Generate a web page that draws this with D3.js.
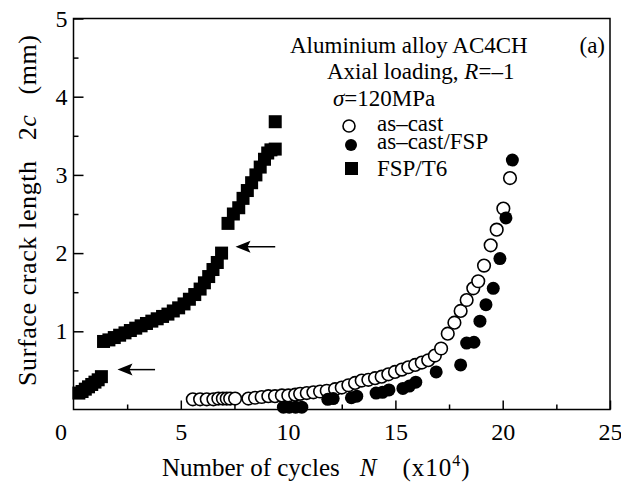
<!DOCTYPE html>
<html>
<head>
<meta charset="utf-8">
<script src="https://cdn.jsdelivr.net/npm/d3@7"></script>
<style>
  body { margin: 0; background: #fff; }
  svg text { font-family: "Liberation Serif", "Times New Roman", serif; fill: #000; }
</style>
</head>
<body>
<script>
// FSP/T6 (filled squares)
var fspN = [0.25, 0.4, 0.55, 0.7, 0.85, 1.0, 1.15, 1.3,
    1.4, 1.65, 1.9, 2.15, 2.4, 2.65, 2.9, 3.15, 3.4, 3.65, 3.9, 4.15, 4.4, 4.65, 4.9,
    5.15, 5.4, 5.65, 5.9, 6.1, 6.3, 6.5, 6.7, 6.9,
    7.2, 7.45, 7.7, 7.9, 8.1, 8.3, 8.5, 8.7, 8.9, 9.05, 9.2, 9.4, 9.4];
var fspC = [0.21, 0.23, 0.26, 0.29, 0.32, 0.35, 0.38, 0.42,
    0.87, 0.89, 0.92, 0.95, 0.98, 1.01, 1.04, 1.07, 1.10, 1.13, 1.16, 1.19, 1.22, 1.26, 1.30,
    1.35, 1.41, 1.47, 1.54, 1.62, 1.70, 1.79, 1.88, 2.00,
    2.38, 2.50, 2.58, 2.70, 2.80, 2.90, 3.00, 3.10, 3.20, 3.28, 3.32, 3.33, 3.68];

// as-cast (open circles)
var castN = [5.56, 5.9, 6.21, 6.52, 6.75, 6.96, 7.14, 7.3, 7.53, 8.15, 8.46, 8.77, 9.08, 9.39, 9.71,
    10.01, 10.33, 10.56, 10.87, 11.18, 11.49, 11.8, 12.19, 12.5, 12.81, 13.12, 13.43, 13.74,
    14.05, 14.36, 14.67, 14.98, 15.3, 15.6, 15.92, 16.23, 16.53, 16.84, 17.13, 17.44, 17.75,
    18.04, 18.32, 18.63, 18.86, 19.13, 19.44, 19.72, 20.03, 20.34];
var castC = [0.13, 0.13, 0.13, 0.13, 0.14, 0.14, 0.14, 0.14, 0.14, 0.14, 0.15, 0.16, 0.17, 0.17, 0.18,
    0.18, 0.19, 0.20, 0.21, 0.22, 0.23, 0.24, 0.26, 0.28, 0.31, 0.34, 0.37, 0.38,
    0.40, 0.42, 0.45, 0.48, 0.51, 0.54, 0.57, 0.60, 0.63, 0.69, 0.78, 0.97, 1.11,
    1.26, 1.40, 1.55, 1.64, 1.84, 2.10, 2.30, 2.57, 2.96];

// as-cast/FSP (filled circles)
var castFspN = [9.78, 10.05, 10.35, 10.64, 11.85, 12.1, 12.95, 13.2, 14.1, 14.4, 14.7, 15.35, 15.65,
    15.95, 16.9, 18.04, 18.32, 18.66, 18.94, 19.22, 19.56, 19.87, 20.15, 20.45];
var castFspC = [0.03, 0.03, 0.03, 0.03, 0.13, 0.14, 0.15, 0.17, 0.21, 0.22, 0.25, 0.27, 0.30,
    0.35, 0.48, 0.57, 0.85, 0.86, 1.13, 1.34, 1.55, 1.93, 2.45, 3.19];

// arrows: [tail N, head N, c]
var arrows = [[3.8, 2.05, 0.51], [9.4, 7.55, 2.08]];

var xMajor = [5, 10, 15, 20, 25];
var xMinor = [2.5, 7.5, 12.5, 17.5, 22.5];
var yMajor = [1, 2, 3, 4, 5];
var yMinor = [0.5, 1.5, 2.5, 3.5, 4.5];

var width = 621, height = 487;
var margin = { left: 73.5, right: 610, top: 18.5, bottom: 409.5 };

var x = d3.scaleLinear().domain([0, 25]).range([margin.left, margin.right]);
var y = d3.scaleLinear().domain([0, 5]).range([margin.bottom, margin.top]);

var svg = d3.select("body").append("svg")
    .attr("width", width)
    .attr("height", height);

// axes with inward ticks
svg.append("g")
    .attr("transform", "translate(0," + margin.bottom + ")")
    .call(d3.axisBottom(x).tickValues(xMajor).tickSize(-9).tickPadding(13).tickFormat(d3.format("d")));
svg.append("g")
    .attr("transform", "translate(0," + margin.bottom + ")")
    .call(d3.axisBottom(x).tickValues(xMinor).tickSize(-5).tickFormat(""));
svg.append("g")
    .attr("transform", "translate(" + margin.left + ",0)")
    .call(d3.axisLeft(y).tickValues(yMajor).tickSize(-10).tickPadding(6).tickFormat(d3.format("d")));
svg.append("g")
    .attr("transform", "translate(" + margin.left + ",0)")
    .call(d3.axisLeft(y).tickValues(yMinor).tickSize(-5).tickFormat(""));

svg.selectAll(".domain").remove();
svg.selectAll(".tick line").attr("stroke", "#000").attr("stroke-width", 1.5);
svg.selectAll(".tick text").style("font-size", "24px").attr("font-family", null);

svg.append("text")
    .attr("x", 67).attr("y", 440)
    .attr("text-anchor", "end")
    .style("font-size", "24px")
    .text("0");

// frame
svg.append("rect")
    .attr("x", margin.left).attr("y", margin.top)
    .attr("width", margin.right - margin.left).attr("height", margin.bottom - margin.top)
    .attr("fill", "none").attr("stroke", "#000").attr("stroke-width", 1.5);

// data
var fsp = fspN.map(function (d, i) { return { n: d, c: fspC[i] }; });
var cast = castN.map(function (d, i) { return { n: d, c: castC[i] }; });
var castFsp = castFspN.map(function (d, i) { return { n: d, c: castFspC[i] }; });

var sq = 13;
svg.selectAll(".sq")
    .data(fsp)
    .enter()
    .append("rect")
    .attr("class", "sq")
    .attr("x", function (d) { return x(d.n) - sq / 2; })
    .attr("y", function (d) { return y(d.c) - sq / 2; })
    .attr("width", sq).attr("height", sq)
    .attr("fill", "#000");

svg.selectAll(".open")
    .data(cast)
    .enter()
    .append("circle")
    .attr("class", "open")
    .attr("cx", function (d) { return x(d.n); })
    .attr("cy", function (d) { return y(d.c); })
    .attr("r", 6.3)
    .attr("fill", "#fff")
    .attr("stroke", "#000")
    .attr("stroke-width", 1.6);

svg.selectAll(".dot")
    .data(castFsp)
    .enter()
    .append("circle")
    .attr("class", "dot")
    .attr("cx", function (d) { return x(d.n); })
    .attr("cy", function (d) { return y(d.c); })
    .attr("r", 6.5)
    .attr("fill", "#000");

// arrows
arrows.forEach(function (a) {
    var x0 = x(a[0]), x1 = x(a[1]), yy = y(a[2]);
    svg.append("line")
        .attr("x1", x0).attr("x2", x1 + 8)
        .attr("y1", yy).attr("y2", yy)
        .attr("stroke", "#000").attr("stroke-width", 1.5);
    svg.append("path")
        .attr("d", "M" + x1 + "," + yy + "L" + (x1 + 15) + "," + (yy - 6) + "L" + (x1 + 12) + "," + yy +
            "L" + (x1 + 15) + "," + (yy + 6) + "Z")
        .attr("fill", "#000");
});

// annotation text
var fs = "23px";
svg.append("text").attr("x", 290).attr("y", 53).style("font-size", fs)
    .text("Aluminium alloy AC4CH");
svg.append("text").attr("x", 605).attr("y", 53).attr("text-anchor", "end").style("font-size", fs)
    .text("(a)");
var t2 = svg.append("text").attr("x", 327).attr("y", 79).style("font-size", fs);
t2.append("tspan").text("Axial loading, ");
t2.append("tspan").style("font-style", "italic").text("R");
t2.append("tspan").text("=\u20131");
var t3 = svg.append("text").attr("x", 333).attr("y", 106).style("font-size", fs);
t3.append("tspan").style("font-style", "italic").text("\u03c3");
t3.append("tspan").text("=120MPa");

// legend
svg.append("circle").attr("cx", 349).attr("cy", 126).attr("r", 6)
    .attr("fill", "#fff").attr("stroke", "#000").attr("stroke-width", 1.6);
svg.append("circle").attr("cx", 351).attr("cy", 145).attr("r", 6).attr("fill", "#000");
svg.append("rect").attr("x", 345).attr("y", 162).attr("width", 13).attr("height", 13).attr("fill", "#000");
svg.append("text").attr("x", 377).attr("y", 131).style("font-size", fs).text("as\u2013cast");
svg.append("text").attr("x", 377).attr("y", 149).style("font-size", fs).text("as\u2013cast/FSP");
svg.append("text").attr("x", 377).attr("y", 176).style("font-size", fs).text("FSP/T6");

// axis titles
var xt = svg.append("text").attr("x", 162).attr("y", 476).style("font-size", "25px");
xt.append("tspan").text("Number of cycles");
xt.append("tspan").attr("dx", 20).style("font-style", "italic").text("N");
xt.append("tspan").attr("dx", 26).style("letter-spacing", "1px").text("(x10");
xt.append("tspan").attr("dy", -10).style("font-size", "16px").text("4");
xt.append("tspan").attr("dy", 10).attr("dx", 1).text(")");

var yt = svg.append("text")
    .attr("transform", "translate(36,386) rotate(-90)")
    .style("font-size", "26px")
    .style("letter-spacing", "0.6px");
yt.append("tspan").text("Surface crack length");
yt.append("tspan").attr("dx", 20).text("2");
yt.append("tspan").style("font-style", "italic").text("c");
yt.append("tspan").attr("dx", 20).text("(mm)");
</script>
</body>
</html>
